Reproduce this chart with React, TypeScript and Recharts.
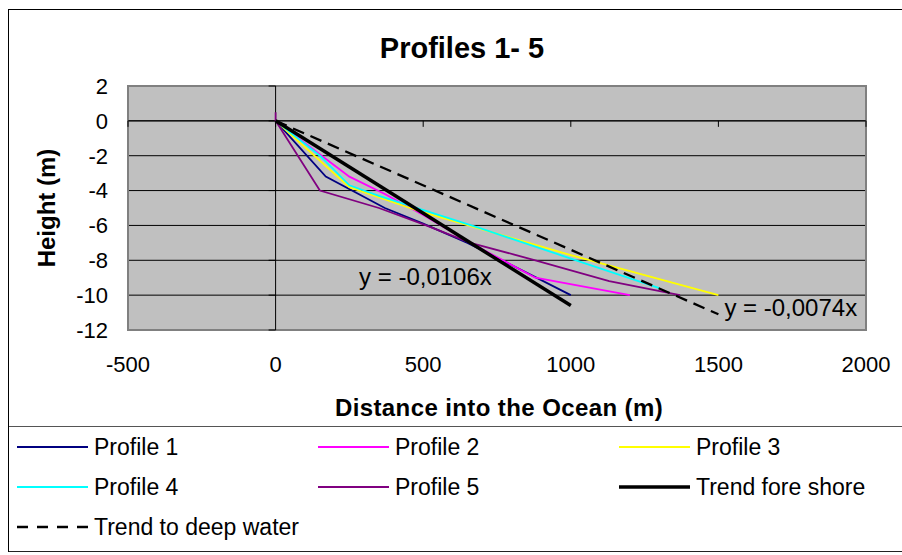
import { LineChart, Line, XAxis, YAxis, CartesianGrid, ReferenceArea, ReferenceLine } from 'recharts'

const FONT = '"Liberation Sans", Arial, Helvetica, sans-serif'

// axis ticks
const xTicks = [-500, 0, 500, 1000, 1500, 2000]
const yTicks = [2, 0, -2, -4, -6, -8, -10, -12]

// measured profiles (distance m, height m)
const profile1 = [
  { x: 0, y: 0 }, { x: 170, y: -3.2 }, { x: 370, y: -5 }, { x: 500, y: -5.9 },
  { x: 650, y: -7 }, { x: 1000, y: -10 },
]
const profile2 = [
  { x: 0, y: 0 }, { x: 250, y: -3.2 }, { x: 370, y: -4.2 }, { x: 500, y: -5.4 },
  { x: 660, y: -7 }, { x: 880, y: -9 }, { x: 1200, y: -10 },
]
const profile3 = [
  { x: 0, y: 0 }, { x: 250, y: -3.8 }, { x: 490, y: -5.2 }, { x: 1000, y: -7.7 },
  { x: 1500, y: -10 },
]
const profile4 = [
  { x: 0, y: 0 }, { x: 150, y: -2 }, { x: 250, y: -3.7 }, { x: 350, y: -4.3 },
  { x: 700, y: -6.2 }, { x: 1000, y: -7.9 }, { x: 1300, y: -9.6 },
]
const profile5 = [
  { x: 0, y: 0.5 }, { x: 0, y: 0 }, { x: 150, y: -4 }, { x: 350, y: -5 },
  { x: 510, y: -6 }, { x: 660, y: -7 }, { x: 880, y: -8 }, { x: 1130, y: -9.2 },
  { x: 1370, y: -10 },
]

// trend lines
const trendFore = [{ x: 0, y: 0 }, { x: 1000, y: -10.6 }]
const trendDeep = [{ x: 0, y: 0 }, { x: 1500, y: -11.1 }]
const foreEq = 'y = -0,0106x'
const deepEq = 'y = -0,0074x'

type Series = {
  name: string
  data: { x: number; y: number }[]
  color: string
  width: number
  dash?: string
  legendDash?: string
  eq?: string
  eqDx?: number
  eqDy?: number
  eqAnchor?: 'start' | 'end'
}

const series: Series[] = [
  { name: 'Profile 1', data: profile1, color: '#000080', width: 1.8 },
  { name: 'Profile 2', data: profile2, color: '#ff00ff', width: 1.8 },
  { name: 'Profile 3', data: profile3, color: '#ffff00', width: 1.8 },
  { name: 'Profile 4', data: profile4, color: '#00ffff', width: 1.8 },
  { name: 'Profile 5', data: profile5, color: '#800080', width: 1.8 },
  { name: 'Trend fore shore', data: trendFore, color: '#000000', width: 3.5, eq: foreEq, eqDx: -79, eqDy: -21, eqAnchor: 'end' },
  { name: 'Trend to deep water', data: trendDeep, color: '#000000', width: 2.3, dash: '12 7', legendDash: '11 9', eq: deepEq, eqDx: 6, eqDy: 2, eqAnchor: 'start' },
]

function eqLabel(s: Series) {
  const last = s.data.length - 1
  return (p: any) => {
    if (p.index !== last) return null
    return (
      <text x={p.x + (s.eqDx ?? 0)} y={p.y + (s.eqDy ?? 0)} textAnchor={s.eqAnchor} fontSize={24} fontFamily={FONT} fill="#000">
        {s.eq}
      </text>
    )
  }
}

// x = 0 value axis with ticks pointing left
function ValueAxis(p: any) {
  const { x1, y1, x2, y2 } = p
  const n = yTicks.length - 1
  return (
    <g>
      <line x1={x1} y1={y1} x2={x2} y2={y2} stroke="#000" strokeWidth={1} />
      {yTicks.map((_, i) => {
        const y = y1 + ((y2 - y1) * i) / n
        return <line key={i} x1={x1 - 7} x2={x1} y1={y} y2={y} stroke="#000" strokeWidth={1} />
      })}
    </g>
  )
}

// y = 0 category axis with ticks pointing down
function CategoryAxis(p: any) {
  const { x1, y1, x2, y2 } = p
  const n = xTicks.length - 1
  return (
    <g>
      <line x1={x1} y1={y1} x2={x2} y2={y2} stroke="#000" strokeWidth={1} />
      {xTicks.map((_, i) => {
        const x = x1 + ((x2 - x1) * i) / n
        return <line key={i} x1={x} x2={x} y1={y1} y2={y1 + 6} stroke="#000" strokeWidth={1} />
      })}
    </g>
  )
}

const tickStyle = { fill: '#000', fontSize: 22, fontFamily: FONT }

export default function App() {
  return (
    <div
      style={{
        position: 'absolute',
        left: 8,
        top: 9,
        width: 894,
        borderTop: '1px solid #000',
        borderLeft: '1px solid #000',
        boxSizing: 'border-box',
        fontFamily: FONT,
        background: '#fff',
      }}
    >
      <div style={{ position: 'relative', width: 893, height: 416 }}>
        <LineChart width={893} height={416} margin={{ top: 76, right: 36, bottom: 0, left: 0 }}>
          <CartesianGrid vertical={false} stroke="#000" fill="#c0c0c0" fillOpacity={1} />
          <ReferenceArea x1={-500} x2={2000} y1={-12} y2={2} fill="none" stroke="#808080" strokeWidth={2} />
          <XAxis
            type="number"
            dataKey="x"
            domain={[-500, 2000]}
            ticks={xTicks}
            interval={0}
            axisLine={false}
            tickLine={false}
            tickSize={0}
            tickMargin={26}
            height={96}
            tick={tickStyle}
          />
          <YAxis
            type="number"
            dataKey="y"
            domain={[-12, 2]}
            ticks={yTicks}
            interval={0}
            axisLine={false}
            tickLine={false}
            tickSize={0}
            tickMargin={20}
            width={119}
            tick={tickStyle}
          />
          <ReferenceLine y={0} stroke="#000" shape={CategoryAxis} />
          <ReferenceLine x={0} stroke="#000" shape={ValueAxis} />
          {series.map((s) => (
            <Line
              key={s.name}
              name={s.name}
              data={s.data}
              dataKey="y"
              type="linear"
              stroke={s.color}
              strokeWidth={s.width}
              strokeDasharray={s.dash}
              dot={false}
              activeDot={false}
              isAnimationActive={false}
              label={s.eq ? eqLabel(s) : false}
            />
          ))}
        </LineChart>
        <div
          style={{
            position: 'absolute',
            left: 453,
            top: 23.5,
            transform: 'translateX(-50%)',
            fontSize: 29,
            fontWeight: 'bold',
            lineHeight: 1,
            whiteSpace: 'nowrap',
          }}
        >
          Profiles 1- 5
        </div>
        <div
          style={{
            position: 'absolute',
            left: 490,
            top: 386,
            transform: 'translateX(-50%)',
            fontSize: 24,
            fontWeight: 'bold',
            letterSpacing: 0.4,
            lineHeight: 1,
            whiteSpace: 'nowrap',
          }}
        >
          Distance into the Ocean (m)
        </div>
        <div
          style={{
            position: 'absolute',
            left: 38,
            top: 198,
            transform: 'translate(-50%, -50%) rotate(-90deg)',
            fontSize: 24,
            fontWeight: 'bold',
            lineHeight: 1,
            whiteSpace: 'nowrap',
          }}
        >
          Height (m)
        </div>
      </div>
      <div
        style={{
          borderTop: '1px solid #555',
          borderBottom: '1px solid #222',
          paddingTop: 0,
          paddingBottom: 4,
          display: 'grid',
          gridTemplateColumns: '301px 301px 291px',
          gridAutoRows: '40px',
        }}
      >
        {series.map((s) => (
          <div key={s.name} style={{ display: 'flex', alignItems: 'center', paddingLeft: 8 }}>
            <svg width={71} height={8} style={{ flex: 'none' }}>
              <line x1={0} x2={71} y1={4} y2={4} stroke={s.color} strokeWidth={Math.max(2, s.width)} strokeDasharray={s.legendDash ?? s.dash} />
            </svg>
            <span style={{ marginLeft: 6, fontSize: 23, whiteSpace: 'nowrap' }}>{s.name}</span>
          </div>
        ))}
      </div>
    </div>
  )
}
